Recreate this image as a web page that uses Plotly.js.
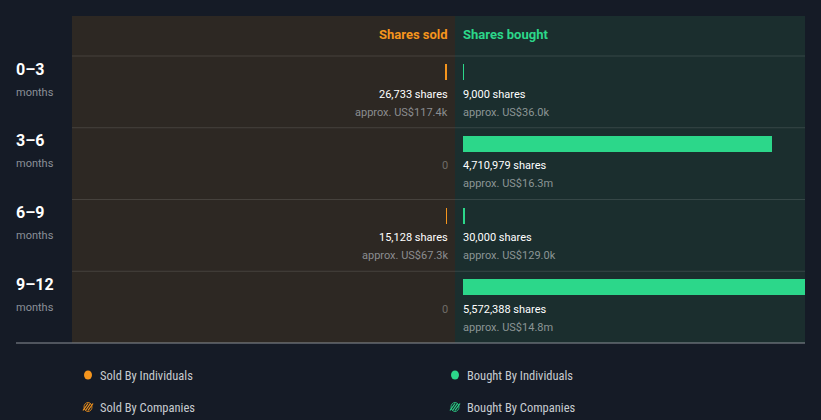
<!DOCTYPE html>
<html>
<head>
<meta charset="utf-8">
<script src="https://cdn.plot.ly/plotly-3.0.1.min.js"></script>
<style>
html,body{margin:0;padding:0;background:#151b26;}
#chart{width:821px;height:420px;}
</style>
</head>
<body>
<div id="chart"></div>
<script>
// ---- data ----
const periods = ["0–3", "3–6", "6–9", "9–12"];
const periodUnit = "months";
const soldShares = [26733, 0, 15128, 0];
const soldValue = ["approx. US$117.4k", "", "approx. US$67.3k", ""];
const boughtShares = [9000, 4710979, 30000, 5572388];
const boughtValue = ["approx. US$36.0k", "approx. US$16.3m", "approx. US$129.0k", "approx. US$14.8m"];
const legendLabels = ["Sold By Individuals", "Bought By Individuals", "Sold By Companies", "Bought By Companies"];

// ---- layout geometry (pixels) ----
const W = 821, H = 420;
const L = 72, R = 805, T = 56, B = 343, TOP = 16;
const PW = R - L, PH = B - T;
const px = v => (v - L) / PW;
const py = v => (B - v) / PH;
const rowH = PH / periods.length;

const ORANGE = "#f5951d", GREEN = "#2cd78a";
const soldZero = 447, boughtZero = 463;
const pxPerShare = 309 / 4710979;
const soldMax = (soldZero - L) / pxPerShare;
const boughtMax = (R - boughtZero) / pxPerShare;

const barOff = 16 / rowH, barW = 16 / rowH;
const ypos = periods.map((_, i) => i + barOff);
const fmt = n => n.toLocaleString("en-US");

const traces = [
  {type: "bar", orientation: "h", x: soldShares, y: ypos, width: barW,
   xaxis: "x", yaxis: "y", marker: {color: ORANGE}, hoverinfo: "skip", showlegend: false},
  {type: "bar", orientation: "h", x: boughtShares, y: ypos, width: barW,
   xaxis: "x2", yaxis: "y", marker: {color: GREEN}, hoverinfo: "skip", showlegend: false}
];

const shapes = [
  {type: "rect", xref: "paper", yref: "paper", x0: 0, x1: px(455), y0: 0, y1: py(TOP),
   fillcolor: "#2d2823", line: {width: 0}, layer: "below"},
  {type: "rect", xref: "paper", yref: "paper", x0: px(455), x1: 1, y0: 0, y1: py(TOP),
   fillcolor: "#1b2e2e", line: {width: 0}, layer: "below"}
];
for (let i = 0; i < periods.length; i++) {
  shapes.push({type: "line", xref: "paper", yref: "paper", x0: 0, x1: 1,
    y0: py(T + i * rowH), y1: py(T + i * rowH), line: {color: "rgba(255,255,255,0.12)", width: 1}});
}
shapes.push({type: "line", xref: "paper", yref: "paper", x0: px(16), x1: 1, y0: 0, y1: 0,
  line: {color: "#8b9096", width: 1}});

const ann = [];
const F = "Roboto, 'Open Sans', sans-serif";
const RS = 3, LS = -2;
ann.push({xref: "paper", yref: "paper", x: px(soldZero), y: py(35), xanchor: "right", yanchor: "middle", xshift: RS,
  text: "<b>Shares sold</b>", showarrow: false, font: {family: F, size: 13, color: ORANGE}});
ann.push({xref: "paper", yref: "paper", x: px(boughtZero), y: py(35), xanchor: "left", yanchor: "middle", xshift: LS,
  text: "<b>Shares bought</b>", showarrow: false, font: {family: F, size: 13, color: GREEN}});

periods.forEach((p, i) => {
  ann.push({xref: "paper", yref: "y", x: px(16), y: i + 13 / rowH, xanchor: "left", yanchor: "middle", xshift: LS,
    text: "<b>" + p + "</b>", showarrow: false, font: {family: F, size: 16, color: "#ffffff"}});
  ann.push({xref: "paper", yref: "y", x: px(16), y: i + 36 / rowH, xanchor: "left", yanchor: "middle", xshift: LS,
    text: periodUnit, showarrow: false, font: {family: F, size: 11, color: "#8b9098"}});
  if (soldShares[i] > 0) {
    ann.push({xref: "paper", yref: "y", x: px(soldZero), y: i + 38 / rowH, xanchor: "right", yanchor: "middle", xshift: RS,
      text: fmt(soldShares[i]) + " shares", showarrow: false, font: {family: F, size: 11, color: "#ffffff"}});
    ann.push({xref: "paper", yref: "y", x: px(soldZero), y: i + 56 / rowH, xanchor: "right", yanchor: "middle", xshift: RS,
      text: soldValue[i], showarrow: false, font: {family: F, size: 11, color: "#8b8d90"}});
  } else {
    ann.push({xref: "paper", yref: "y", x: px(soldZero), y: i + 38 / rowH, xanchor: "right", yanchor: "middle", xshift: RS,
      text: "0", showarrow: false, font: {family: F, size: 11, color: "#6f6c68"}});
  }
  ann.push({xref: "paper", yref: "y", x: px(boughtZero), y: i + 38 / rowH, xanchor: "left", yanchor: "middle", xshift: LS,
    text: fmt(boughtShares[i]) + " shares", showarrow: false, font: {family: F, size: 11, color: "#ffffff"}});
  ann.push({xref: "paper", yref: "y", x: px(boughtZero), y: i + 56 / rowH, xanchor: "left", yanchor: "middle", xshift: LS,
    text: boughtValue[i], showarrow: false, font: {family: F, size: 11, color: "#8b9595"}});
});

// legend
const legPos = [[88, 375, ORANGE, false], [455, 375, GREEN, false], [88, 407, ORANGE, true], [455, 407, GREEN, true]];
legPos.forEach(([x, y, c, striped], k) => {
  shapes.push({type: "circle", xref: "paper", yref: "paper", x0: px(x - 4), x1: px(x + 4), y0: py(y + 4.5), y1: py(y - 4.5),
    fillcolor: striped ? "#151b26" : c, line: {color: c, width: striped ? 0.8 : 0}});
  if (striped) {
    for (const d of [-2.5, 0, 2.5]) {
      shapes.push({type: "line", xref: "paper", yref: "paper",
        x0: px(x - 2.5 + d), x1: px(x + 2.5 + d), y0: py(y + 3.5), y1: py(y - 3.5),
        line: {color: c, width: 1.2}});
    }
  }
  ann.push({xref: "paper", yref: "paper", x: px(x + 12), y: py(y), xanchor: "left", yanchor: "middle", xshift: LS,
    text: legendLabels[k], showarrow: false,
    font: {family: "'Liberation Sans Narrow', 'Roboto Condensed', 'DejaVu Sans Condensed', Roboto, sans-serif", size: 12.5, color: "#c7cbd0"}});
});

const layout = {
  width: W, height: H,
  margin: {l: L, r: W - R, t: T, b: H - B, pad: 0},
  paper_bgcolor: "#151b26", plot_bgcolor: "rgba(0,0,0,0)",
  showlegend: false,
  bargap: 0,
  xaxis: {domain: [0, px(soldZero)], range: [soldMax, 0], visible: false, fixedrange: true},
  xaxis2: {domain: [px(boughtZero), 1], range: [0, boughtMax], visible: false, anchor: "y", fixedrange: true},
  yaxis: {range: [periods.length, 0], visible: false, fixedrange: true},
  shapes: shapes,
  annotations: ann
};

Plotly.newPlot("chart", traces, layout, {displayModeBar: false, staticPlot: true});
</script>
</body>
</html>
